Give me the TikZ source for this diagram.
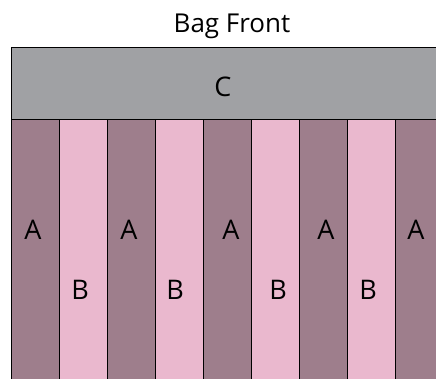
\documentclass[tikz,border=0pt]{standalone}
\usepackage{fontspec}
\setmainfont{Open Sans}
\usepackage{tikz}

\definecolor{bagGray}{RGB}{160,161,164}
\definecolor{bagMauve}{RGB}{158,126,140}
\definecolor{bagPink}{RGB}{234,184,206}

\tikzset{
  panel/.style={draw=black, line width=1pt},
  lbl/.style={font=\fontsize{27}{32}\selectfont, anchor=base, inner sep=0pt}
}

\begin{document}
\begin{tikzpicture}[x=1pt,y=-1pt]
  \useasboundingbox (0,0) rectangle (436,379);
  \clip (0,0) rectangle (436,379);

  \node[lbl, font=\fontsize{26}{30}\selectfont] (title) at (232,32.5) {Bag Front};

  % top band
  \draw[panel, fill=bagGray] (11,48) rectangle (460,120);
  \node[lbl] (C) at (223,97) {C};

  % vertical strips, A and B in turn
  \foreach \i in {0,...,8}{
    \pgfmathtruncatemacro{\odd}{mod(\i,2)}
    \pgfmathsetmacro{\xl}{11+48*\i}
    \ifnum\odd=0
      \draw[panel, fill=bagMauve] (\xl,120) rectangle ++(48,280);
    \else
      \draw[panel, fill=bagPink] (\xl,120) rectangle ++(48,280);
    \fi
  }
  \foreach \x [count=\n] in {33,129,231,326,416}
    \node[lbl] (a\n) at (\x,239.5) {A};
  \foreach \x [count=\n] in {80,175,278,368}
    \node[lbl] (b\n) at (\x,299) {B};
\end{tikzpicture}
\end{document}
